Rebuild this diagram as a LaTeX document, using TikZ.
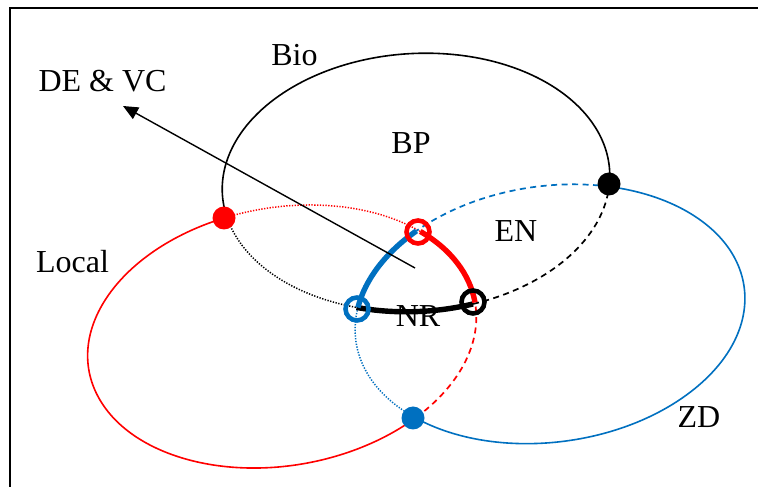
\documentclass[tikz,border=0pt]{standalone}
\usepackage{fontspec}
\setmainfont{Liberation Serif}
\usetikzlibrary{arrows.meta}
\definecolor{zdblue}{HTML}{0070C0}
\definecolor{locred}{HTML}{FF0000}
\begin{document}
\begin{tikzpicture}[x=1pt,y=1pt,
  thinline/.style={line width=1.6pt},
  thickarc/.style={line width=5.4pt},
  dotline/.style={line width=1.5pt, dash pattern=on 1.3pt off 1.5pt},
  dashline/.style={line width=1.7pt, dash pattern=on 6pt off 4.5pt},
  lbl/.style={font=\fontsize{32}{38}\selectfont, anchor=base, inner sep=0pt},
  ring/.style={circle, line width=4.6pt, minimum size=23pt, inner sep=0pt},
  fdot/.style={circle, minimum size=23pt, inner sep=0pt}]
\useasboundingbox (0,0) rectangle (758,487);
\fill[white] (0,0) rectangle (758,487);
% frame
\draw[line width=1.8pt] (10,0) -- (10,479) -- (758,479);

% Bio (black)
\begin{scope}[shift={(416,304.5)}, rotate=3.5]
  \draw[thinline] (-5.9:194pt and 129pt) arc[start angle=-5.9, end angle=190.7, x radius=194pt, y radius=129pt];
  \draw[dotline] (190.7:194pt and 129pt) arc[start angle=190.7, end angle=249.8, x radius=194pt, y radius=129pt];
  \draw[dashline] (284.8:194pt and 129pt) arc[start angle=284.8, end angle=354.1, x radius=194pt, y radius=129pt];
\end{scope}
% Local (red)
\begin{scope}[shift={(282,150.5)}, rotate=10, locred]
  \draw[thinline] (101:196pt and 129pt) arc[start angle=101, end angle=307, x radius=196pt, y radius=129pt];
  \draw[dashline] (307:196pt and 129pt) arc[start angle=307, end angle=360, x radius=196pt, y radius=129pt];
  \draw[dotline] (38:196pt and 129pt) arc[start angle=38, end angle=101, x radius=196pt, y radius=129pt];
\end{scope}
% ZD (blue)
\begin{scope}[shift={(550,173)}, rotate=8, zdblue]
  \draw[dashline] (67:196pt and 128pt) arc[start angle=67, end angle=128, x radius=196pt, y radius=128pt];
  \draw[dotline] (165:196pt and 128pt) arc[start angle=165, end angle=220, x radius=196pt, y radius=128pt];
  \draw[thinline] (220:196pt and 128pt) arc[start angle=220, end angle=427, x radius=196pt, y radius=128pt];
\end{scope}
% thick arcs
\begin{scope}[shift={(416,304.5)}, rotate=3.5]
  \draw[thickarc] (249.8:194pt and 129pt) arc[start angle=249.8, end angle=284.8, x radius=194pt, y radius=129pt];
\end{scope}
\begin{scope}[shift={(282,150.5)}, rotate=10]
  \draw[thickarc, locred] (0:196pt and 129pt) arc[start angle=0, end angle=38, x radius=196pt, y radius=129pt];
\end{scope}
\begin{scope}[shift={(550,173)}, rotate=8]
  \draw[thickarc, zdblue] (128:196pt and 128pt) arc[start angle=128, end angle=165, x radius=196pt, y radius=128pt];
\end{scope}

% arrow
\coordinate (arrowstart) at (415,219);
\coordinate (arrowtip) at (123,381);
\draw[line width=1.4pt, -{Triangle[length=15pt, width=13pt]}] (arrowstart) -- (arrowtip);

% markers
\node[fdot, fill=locred] (reddot) at (224,269) {};
\node[fdot, fill=black] (blackdot) at (609,303) {};
\node[fdot, fill=zdblue] (bluedot) at (413,69) {};
\node[ring, draw=locred] (redring) at (418,255) {};
\node[ring, draw=zdblue] (bluering) at (357,178) {};
\node[ring, draw=black] (blackring) at (473,185) {};

% labels
\node[lbl] (bio) at (294.5,421) {Bio};
\node[lbl] (devc) at (102.5,395) {DE \& VC};
\node[lbl] (bp) at (411,333) {BP};
\node[lbl] (en) at (516,245) {EN};
\node[lbl] (local) at (72.5,214) {Local};
\node[lbl] (nr) at (418,160) {NR};
\node[lbl] (zd) at (699,59) {ZD};
\end{tikzpicture}
\end{document}
